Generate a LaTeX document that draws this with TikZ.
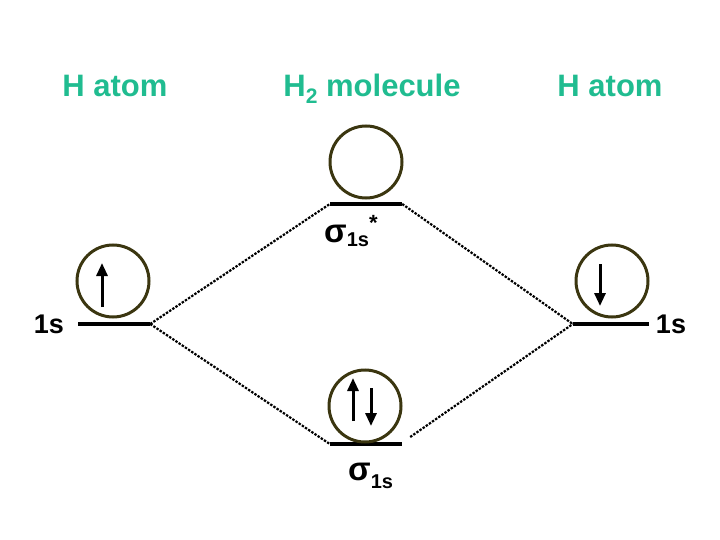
\documentclass[tikz,border=0pt]{standalone}
\usepackage{fontspec}
\setmainfont{Liberation Sans}
\usetikzlibrary{arrows.meta}
\definecolor{htext}{HTML}{20BC90}
\definecolor{ring}{HTML}{3B3610}
\begin{document}
\begin{tikzpicture}[x=1pt,y=-1pt,
  title/.style={text=htext,font=\fontsize{31}{36}\selectfont\bfseries,anchor=base,inner sep=0pt},
  lvl/.style={fill=black,minimum width=#1,minimum height=4pt,inner sep=0pt},
  lvl/.default=72pt,
  orb/.style={draw=ring,line width=3pt,circle,minimum size=72pt,inner sep=0pt},
  lab/.style={font=\fontsize{27}{32}\selectfont\bfseries,anchor=base,inner sep=0pt},
  link/.style={line width=2.2pt,black,dash pattern=on 2.4pt off 1.4pt},
  spin/.style={line width=3pt,-{Triangle[width=11pt,length=13pt]}}]
\useasboundingbox (0,0) rectangle (720,540);
% titles
\node[title] (ta) at (115,97) {H atom};
\node[title] (tm) at (372,97) {H\raisebox{-7pt}{\fontsize{21}{24}\selectfont 2} molecule};
\node[title] (tb) at (610,97) {H atom};
% levels
\node[lvl] (L) at (114,324) {};
\node[lvl] (T) at (366,204) {};
\node[lvl] (B) at (366,444) {};
\node[lvl=76pt] (R) at (611,324) {};
% orbitals
\node[orb] (cL) at (113,281) {};
\node[orb] (cT) at (366,162) {};
\node[orb] (cB) at (365,406) {};
\node[orb] (cR) at (612,281) {};
% spins
\draw[spin] (102,307) -- (102,263);
\draw[spin] (600,264) -- (600,306);
\draw[spin] (353,421) -- (353,378);
\draw[spin] (371,388) -- (371,426);
% labels
\node[lab] (l1) at (49,333) {1s};
\node[lab] (l2) at (671,333) {1s};
\node[anchor=base west,inner sep=0pt,font=\bfseries] (sT) at (324,242)
  {{\fontsize{33}{32}\selectfont σ}\raisebox{-5pt}{\fontsize{20}{20}\selectfont 1s}\raisebox{12pt}{\fontsize{22}{22}\selectfont *}};
\node[anchor=base west,inner sep=0pt,font=\bfseries] (sB) at (348,480)
  {{\fontsize{33}{32}\selectfont σ}\raisebox{-8pt}{\fontsize{20}{20}\selectfont 1s}};
% correlation lines
\draw[link] (L.east) -- (T.west);
\draw[link] (L.east) -- (B.west);
\draw[link] (T.east) -- (R.west);
\draw[link] ([xshift=8pt,yshift=7pt]B.east) -- (R.west);
\end{tikzpicture}
\end{document}
